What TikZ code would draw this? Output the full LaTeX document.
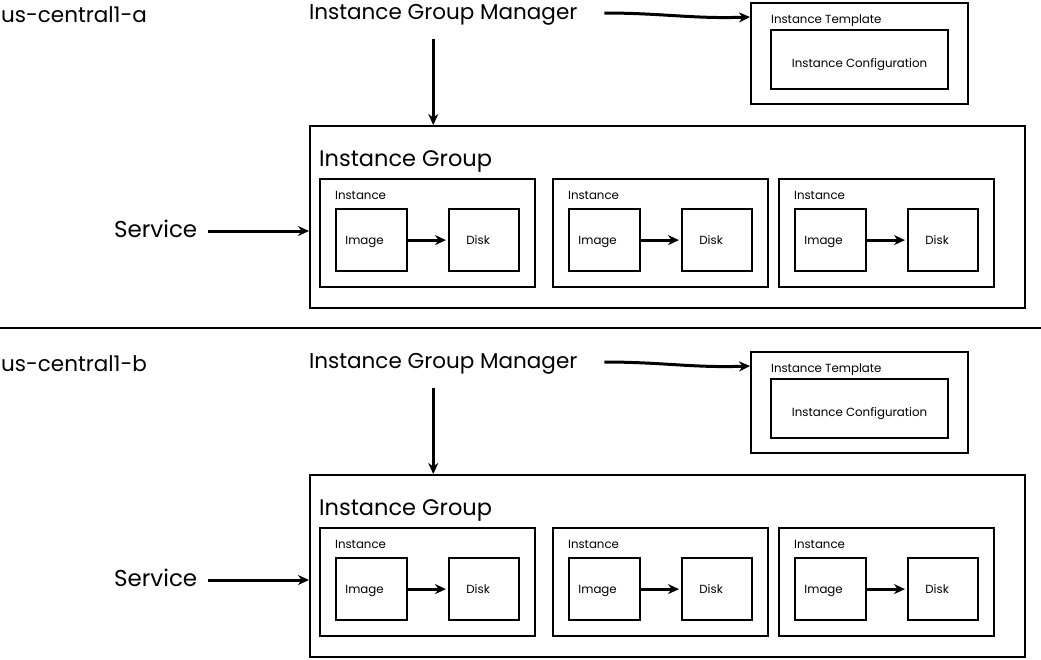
\documentclass[tikz,border=0pt]{standalone}
\usepackage{fontspec}
\setmainfont{Poppins}
\usetikzlibrary{arrows.meta,positioning}
\begin{document}
\begin{tikzpicture}[x=1pt,y=-1pt,line width=2.2pt,>={Stealth[length=11pt,width=10pt]},
  box/.style={draw,rectangle,inner sep=0pt,anchor=north west},
  big/.style={font=\fontsize{21.5}{24}\selectfont,anchor=west,inner sep=0pt},
  small/.style={font=\fontsize{11.8}{13}\selectfont,anchor=base,inner sep=0pt},
  tag/.style={small,anchor=base west},
  link/.style={->,line width=3pt}]
  \useasboundingbox (0,0) rectangle (1041,659);
  \draw[line width=1.2pt] (0,328) coordinate (sl) -- (1041,328) coordinate (sr);
  \foreach \z/\dy in {a/0,b/349}{
  \begin{scope}[yshift=-\dy pt]
    \node[big] (zone\z) at (0,15) {us-central1-\z};
    \node[big] (igm\z) at (308,15) {Instance Group Manager};
    \node[big,font=\fontsize{23}{26}\selectfont] (svc\z) at (113,229) {Service};
    % template
    \node[box,minimum width=217pt,minimum height=101pt] (tpl\z) at (750,2) {};
    \node[tag] (tplt\z) at (770,23.5) {Instance Template};
    \node[box,minimum width=177pt,minimum height=59pt] (cfg\z) at (770,29) {};
    \node[small] (cfgt\z) at ([yshift=-8pt]cfg\z.center) {Instance Configuration};
    % group
    \node[box,minimum width=715pt,minimum height=182pt] (ig\z) at (309,125) {};
    \node[big,font=\fontsize{22.5}{26}\selectfont] (igt\z) at (318,161) {Instance Group};
    \foreach \i/\x in {1/319,2/552,3/778}{
      \node[box,minimum width=215pt,minimum height=108pt] (in\z\i) at (\x,178) {};
      \node[tag] (int\z\i) at (\x+15,199.5) {Instance};
      \node[box,minimum width=71pt,minimum height=62pt] (img\z\i) at (\x+16,208) {};
      \node[box,minimum width=70pt,minimum height=62pt] (dsk\z\i) at (\x+129,208) {};
      \node[small] (imgt\z\i) at ([xshift=-7pt,yshift=-4pt]img\z\i.center) {Image};
      \node[small] (dskt\z\i) at ([xshift=-6pt,yshift=-4pt]dsk\z\i.center) {Disk};
      \draw[link] (img\z\i.east) -- ([xshift=-2pt]dsk\z\i.west);
    }
    \draw[link] ([xshift=26pt,yshift=2pt]igm\z.east) to[out=0,in=182] ([yshift=-2pt]tpl\z.west |- igm\z);
    \draw[link] ([xshift=-10pt,yshift=-12pt]igm\z.south) -- ([xshift=-10pt]igm\z.south |- ig\z.north);
    \draw[link] ([xshift=10pt,yshift=-2pt]svc\z.east) -- ([yshift=-2pt]svc\z -| ig\z.west);
  \end{scope}
  }
\end{tikzpicture}
\end{document}
